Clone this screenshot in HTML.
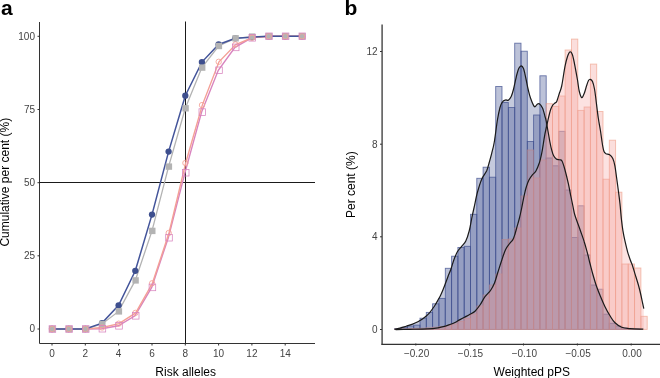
<!DOCTYPE html>
<html><head><meta charset="utf-8"><style>
html,body{margin:0;padding:0;background:#fff;width:660px;height:378px;overflow:hidden}
svg{display:block;will-change:transform}
text{font-family:"Liberation Sans",sans-serif}
.tk{font-size:10px;fill:#444}
.ti{font-size:12px;fill:#000}
.pl{font-size:21px;font-weight:bold;fill:#000}
</style></head><body>
<svg width="660" height="378" viewBox="0 0 660 378">
<rect width="660" height="378" fill="#fff"/>
<text x="1" y="14.6" class="pl">a</text>
<text x="344.5" y="14.6" class="pl">b</text>
<line x1="39.5" y1="22" x2="39.5" y2="343.5" stroke="#333" stroke-width="1"/>
<line x1="39.5" y1="343.5" x2="315" y2="343.5" stroke="#333" stroke-width="1"/>
<line x1="37.5" y1="329" x2="39.5" y2="329" stroke="#333" stroke-width="1"/>
<text x="35" y="332.4" class="tk" text-anchor="end">0</text>
<line x1="37.5" y1="255.8" x2="39.5" y2="255.8" stroke="#333" stroke-width="1"/>
<text x="35" y="259.2" class="tk" text-anchor="end">25</text>
<line x1="37.5" y1="182.7" x2="39.5" y2="182.7" stroke="#333" stroke-width="1"/>
<text x="35" y="186.1" class="tk" text-anchor="end">50</text>
<line x1="37.5" y1="109.5" x2="39.5" y2="109.5" stroke="#333" stroke-width="1"/>
<text x="35" y="112.9" class="tk" text-anchor="end">75</text>
<line x1="37.5" y1="36.3" x2="39.5" y2="36.3" stroke="#333" stroke-width="1"/>
<text x="35" y="39.7" class="tk" text-anchor="end">100</text>
<line x1="52" y1="343.5" x2="52" y2="345.5" stroke="#333" stroke-width="1"/>
<text x="52" y="356.9" class="tk" text-anchor="middle">0</text>
<line x1="85.3" y1="343.5" x2="85.3" y2="345.5" stroke="#333" stroke-width="1"/>
<text x="85.3" y="356.9" class="tk" text-anchor="middle">2</text>
<line x1="118.6" y1="343.5" x2="118.6" y2="345.5" stroke="#333" stroke-width="1"/>
<text x="118.6" y="356.9" class="tk" text-anchor="middle">4</text>
<line x1="152" y1="343.5" x2="152" y2="345.5" stroke="#333" stroke-width="1"/>
<text x="152" y="356.9" class="tk" text-anchor="middle">6</text>
<line x1="185.3" y1="343.5" x2="185.3" y2="345.5" stroke="#333" stroke-width="1"/>
<text x="185.3" y="356.9" class="tk" text-anchor="middle">8</text>
<line x1="218.6" y1="343.5" x2="218.6" y2="345.5" stroke="#333" stroke-width="1"/>
<text x="218.6" y="356.9" class="tk" text-anchor="middle">10</text>
<line x1="251.9" y1="343.5" x2="251.9" y2="345.5" stroke="#333" stroke-width="1"/>
<text x="251.9" y="356.9" class="tk" text-anchor="middle">12</text>
<line x1="285.2" y1="343.5" x2="285.2" y2="345.5" stroke="#333" stroke-width="1"/>
<text x="285.2" y="356.9" class="tk" text-anchor="middle">14</text>
<line x1="185.5" y1="21.5" x2="185.5" y2="343.5" stroke="#1a1a1a" stroke-width="1"/>
<line x1="39.5" y1="182.5" x2="315" y2="182.5" stroke="#1a1a1a" stroke-width="1"/>
<polyline points="51.7,329 68.4,329 85,329 101.7,328.7 118.3,325.8 135,315.8 151.7,287.4 168.3,237.7 185,172.7 201.6,112.1 218.3,70.3 235,47.4 251.6,37.8 268.3,36.3 284.9,36.3 301.6,36.3" fill="none" stroke="#d883be" stroke-width="1.4"/>
<polyline points="52.4,329 69.1,329 85.7,329 102.4,327.5 119,323.7 135.7,312.9 152.4,283.3 169,233 185.7,163 202.3,105.1 219,61.8 235.7,44.5 252.3,37.8 269,36.3 285.6,36.3 302.3,36.3" fill="none" stroke="#f4a096" stroke-width="1.4"/>
<polyline points="52,329 68.7,329 85.3,329 102,324 118.6,311.4 135.3,280.4 152,230.9 168.6,166.6 185.3,108.3 201.9,67.6 218.6,46 235.3,38.3 251.9,36.6 268.6,36.3 285.2,36.3 301.9,36.3" fill="none" stroke="#b3b3b3" stroke-width="1.3"/>
<polyline points="52,329 68.7,329 85.3,329 102,323.1 118.6,305.3 135.3,270.8 152,214.6 168.6,151.6 185.3,95.7 201.9,62.1 218.6,44.5 235.3,38.3 251.9,37.2 268.6,36.3 285.2,36.3 301.9,36.3" fill="none" stroke="#43549a" stroke-width="1.5"/>
<circle cx="52" cy="329" r="3.15" fill="#3e4f8e"/>
<circle cx="68.7" cy="329" r="3.15" fill="#3e4f8e"/>
<circle cx="85.3" cy="329" r="3.15" fill="#3e4f8e"/>
<circle cx="102" cy="323.1" r="3.15" fill="#3e4f8e"/>
<circle cx="118.6" cy="305.3" r="3.15" fill="#3e4f8e"/>
<circle cx="135.3" cy="270.8" r="3.15" fill="#3e4f8e"/>
<circle cx="152" cy="214.6" r="3.15" fill="#3e4f8e"/>
<circle cx="168.6" cy="151.6" r="3.15" fill="#3e4f8e"/>
<circle cx="185.3" cy="95.7" r="3.15" fill="#3e4f8e"/>
<circle cx="201.9" cy="62.1" r="3.15" fill="#3e4f8e"/>
<circle cx="218.6" cy="44.5" r="3.15" fill="#3e4f8e"/>
<circle cx="235.3" cy="38.3" r="3.15" fill="#3e4f8e"/>
<circle cx="251.9" cy="37.2" r="3.15" fill="#3e4f8e"/>
<circle cx="268.6" cy="36.3" r="3.15" fill="#3e4f8e"/>
<circle cx="285.2" cy="36.3" r="3.15" fill="#3e4f8e"/>
<circle cx="301.9" cy="36.3" r="3.15" fill="#3e4f8e"/>
<rect x="49.1" y="325.8" width="6.4" height="6.4" fill="#b3b3b3"/>
<rect x="65.8" y="325.8" width="6.4" height="6.4" fill="#b3b3b3"/>
<rect x="82.4" y="325.8" width="6.4" height="6.4" fill="#b3b3b3"/>
<rect x="99.1" y="320.8" width="6.4" height="6.4" fill="#b3b3b3"/>
<rect x="115.7" y="308.2" width="6.4" height="6.4" fill="#b3b3b3"/>
<rect x="132.4" y="277.2" width="6.4" height="6.4" fill="#b3b3b3"/>
<rect x="149.1" y="227.7" width="6.4" height="6.4" fill="#b3b3b3"/>
<rect x="165.7" y="163.4" width="6.4" height="6.4" fill="#b3b3b3"/>
<rect x="182.4" y="105.1" width="6.4" height="6.4" fill="#b3b3b3"/>
<rect x="199" y="64.4" width="6.4" height="6.4" fill="#b3b3b3"/>
<rect x="215.7" y="42.8" width="6.4" height="6.4" fill="#b3b3b3"/>
<rect x="232.4" y="35.1" width="6.4" height="6.4" fill="#b3b3b3"/>
<rect x="249" y="33.4" width="6.4" height="6.4" fill="#b3b3b3"/>
<rect x="265.7" y="33.1" width="6.4" height="6.4" fill="#b3b3b3"/>
<rect x="282.3" y="33.1" width="6.4" height="6.4" fill="#b3b3b3"/>
<rect x="299" y="33.1" width="6.4" height="6.4" fill="#b3b3b3"/>
<circle cx="52.1" cy="329" r="2.7" fill="none" stroke="#f4a096" stroke-width="0.85"/>
<circle cx="68.8" cy="329" r="2.7" fill="none" stroke="#f4a096" stroke-width="0.85"/>
<circle cx="85.4" cy="329" r="2.7" fill="none" stroke="#f4a096" stroke-width="0.85"/>
<circle cx="102.1" cy="327.5" r="2.7" fill="none" stroke="#f4a096" stroke-width="0.85"/>
<circle cx="118.7" cy="323.7" r="2.7" fill="none" stroke="#f4a096" stroke-width="0.85"/>
<circle cx="135.4" cy="312.9" r="2.7" fill="none" stroke="#f4a096" stroke-width="0.85"/>
<circle cx="152.1" cy="283.3" r="2.7" fill="none" stroke="#f4a096" stroke-width="0.85"/>
<circle cx="168.7" cy="233" r="2.7" fill="none" stroke="#f4a096" stroke-width="0.85"/>
<circle cx="185.4" cy="163" r="2.7" fill="none" stroke="#f4a096" stroke-width="0.85"/>
<circle cx="202" cy="105.1" r="2.7" fill="none" stroke="#f4a096" stroke-width="0.85"/>
<circle cx="218.7" cy="61.8" r="2.7" fill="none" stroke="#f4a096" stroke-width="0.85"/>
<circle cx="235.4" cy="44.5" r="2.7" fill="none" stroke="#f4a096" stroke-width="0.85"/>
<circle cx="252" cy="37.8" r="2.7" fill="none" stroke="#f4a096" stroke-width="0.85"/>
<circle cx="268.7" cy="36.3" r="2.7" fill="none" stroke="#f4a096" stroke-width="0.85"/>
<circle cx="285.3" cy="36.3" r="2.7" fill="none" stroke="#f4a096" stroke-width="0.85"/>
<circle cx="302" cy="36.3" r="2.7" fill="none" stroke="#f4a096" stroke-width="0.85"/>
<rect x="49.1" y="325.7" width="6.6" height="6.6" fill="none" stroke="#d883be" stroke-width="0.75"/>
<rect x="65.8" y="325.7" width="6.6" height="6.6" fill="none" stroke="#d883be" stroke-width="0.75"/>
<rect x="82.4" y="325.7" width="6.6" height="6.6" fill="none" stroke="#d883be" stroke-width="0.75"/>
<rect x="99.1" y="325.4" width="6.6" height="6.6" fill="none" stroke="#d883be" stroke-width="0.75"/>
<rect x="115.7" y="322.5" width="6.6" height="6.6" fill="none" stroke="#d883be" stroke-width="0.75"/>
<rect x="132.4" y="312.5" width="6.6" height="6.6" fill="none" stroke="#d883be" stroke-width="0.75"/>
<rect x="149.1" y="284.1" width="6.6" height="6.6" fill="none" stroke="#d883be" stroke-width="0.75"/>
<rect x="165.7" y="234.4" width="6.6" height="6.6" fill="none" stroke="#d883be" stroke-width="0.75"/>
<rect x="182.4" y="169.4" width="6.6" height="6.6" fill="none" stroke="#d883be" stroke-width="0.75"/>
<rect x="199" y="108.8" width="6.6" height="6.6" fill="none" stroke="#d883be" stroke-width="0.75"/>
<rect x="215.7" y="67" width="6.6" height="6.6" fill="none" stroke="#d883be" stroke-width="0.75"/>
<rect x="232.4" y="44.1" width="6.6" height="6.6" fill="none" stroke="#d883be" stroke-width="0.75"/>
<rect x="249" y="34.5" width="6.6" height="6.6" fill="none" stroke="#d883be" stroke-width="0.75"/>
<rect x="265.7" y="33" width="6.6" height="6.6" fill="none" stroke="#d883be" stroke-width="0.75"/>
<rect x="282.3" y="33" width="6.6" height="6.6" fill="none" stroke="#d883be" stroke-width="0.75"/>
<rect x="299" y="33" width="6.6" height="6.6" fill="none" stroke="#d883be" stroke-width="0.75"/>
<text x="185.7" y="376" class="ti" text-anchor="middle">Risk alleles</text>
<text transform="translate(8.8,182.2) rotate(-90)" class="ti" text-anchor="middle">Cumulative per cent (%)</text>
<g fill="#3f4f8f" fill-opacity="0.35" stroke="#3f4f8f" stroke-opacity="0.75" stroke-width="0.9">
<rect x="394.8" y="328.5" width="6.3" height="0.9"/>
<rect x="401.1" y="327.3" width="6.3" height="2.1"/>
<rect x="407.4" y="326" width="6.3" height="3.4"/>
<rect x="413.7" y="325.1" width="6.3" height="4.3"/>
<rect x="420" y="318.2" width="6.3" height="11.2"/>
<rect x="426.3" y="312.4" width="6.3" height="17"/>
<rect x="432.6" y="303.8" width="6.3" height="25.6"/>
<rect x="438.9" y="298.4" width="6.3" height="31"/>
<rect x="445.3" y="268.3" width="6.3" height="61.1"/>
<rect x="451.6" y="256.2" width="6.3" height="73.2"/>
<rect x="457.9" y="247.5" width="6.3" height="81.9"/>
<rect x="464.2" y="246.3" width="6.3" height="83.1"/>
<rect x="470.5" y="214.3" width="6.3" height="115.1"/>
<rect x="476.8" y="178.3" width="6.3" height="151.1"/>
<rect x="483.1" y="167.2" width="6.3" height="162.2"/>
<rect x="489.4" y="177.2" width="6.3" height="152.2"/>
<rect x="495.7" y="86.5" width="6.3" height="242.9"/>
<rect x="502" y="102.5" width="6.3" height="226.9"/>
<rect x="508.4" y="107.5" width="6.3" height="221.9"/>
<rect x="514.7" y="43.2" width="6.3" height="286.2"/>
<rect x="521" y="51.2" width="6.3" height="278.2"/>
<rect x="527.3" y="141.5" width="6.3" height="187.9"/>
<rect x="533.6" y="115" width="6.3" height="214.4"/>
<rect x="539.9" y="75.8" width="6.3" height="253.6"/>
<rect x="546.2" y="158" width="6.3" height="171.4"/>
<rect x="552.5" y="165.8" width="6.3" height="163.6"/>
<rect x="558.8" y="131.3" width="6.3" height="198.1"/>
<rect x="565.1" y="190" width="6.3" height="139.4"/>
<rect x="571.5" y="237.5" width="6.3" height="91.9"/>
<rect x="577.8" y="205.8" width="6.3" height="123.6"/>
<rect x="584.1" y="255" width="6.3" height="74.4"/>
<rect x="590.4" y="285" width="6.3" height="44.4"/>
<rect x="596.7" y="289.2" width="6.3" height="40.2"/>
<rect x="603" y="314.2" width="6.3" height="15.2"/>
<rect x="609.3" y="323.3" width="6.3" height="6.1"/>
<rect x="615.6" y="326" width="6.3" height="3.4"/>
<rect x="621.9" y="327.8" width="6.3" height="1.6"/>
<rect x="628.2" y="328.4" width="6.3" height="1"/>
<rect x="634.6" y="328.8" width="6.3" height="0.6"/>
</g>
<g fill="#f4a09a" fill-opacity="0.35" stroke="#ee9c86" stroke-opacity="0.65" stroke-width="0.9">
<rect x="394.8" y="329" width="6.3" height="0.4"/>
<rect x="401.1" y="328.9" width="6.3" height="0.5"/>
<rect x="407.4" y="328.6" width="6.3" height="0.8"/>
<rect x="413.7" y="328.4" width="6.3" height="1"/>
<rect x="420" y="328.2" width="6.3" height="1.2"/>
<rect x="426.3" y="327.8" width="6.3" height="1.6"/>
<rect x="432.6" y="327.2" width="6.3" height="2.2"/>
<rect x="438.9" y="326.5" width="6.3" height="2.9"/>
<rect x="445.3" y="325.5" width="6.3" height="3.9"/>
<rect x="451.6" y="324" width="6.3" height="5.4"/>
<rect x="457.9" y="321.5" width="6.3" height="7.9"/>
<rect x="464.2" y="318.5" width="6.3" height="10.9"/>
<rect x="470.5" y="314" width="6.3" height="15.4"/>
<rect x="476.8" y="306" width="6.3" height="23.4"/>
<rect x="483.1" y="295" width="6.3" height="34.4"/>
<rect x="489.4" y="285" width="6.3" height="44.4"/>
<rect x="495.7" y="274" width="6.3" height="55.4"/>
<rect x="502" y="239.6" width="6.3" height="89.8"/>
<rect x="508.4" y="239" width="6.3" height="90.4"/>
<rect x="514.7" y="228" width="6.3" height="101.4"/>
<rect x="521" y="196" width="6.3" height="133.4"/>
<rect x="527.3" y="150" width="6.3" height="179.4"/>
<rect x="533.6" y="178" width="6.3" height="151.4"/>
<rect x="539.9" y="160" width="6.3" height="169.4"/>
<rect x="546.2" y="103.7" width="6.3" height="225.7"/>
<rect x="552.5" y="106.3" width="6.3" height="223.1"/>
<rect x="558.8" y="96" width="6.3" height="233.4"/>
<rect x="565.1" y="50" width="6.3" height="279.4"/>
<rect x="571.5" y="39.1" width="6.3" height="290.3"/>
<rect x="577.8" y="110.4" width="6.3" height="219"/>
<rect x="584.1" y="107" width="6.3" height="222.4"/>
<rect x="590.4" y="64.1" width="6.3" height="265.3"/>
<rect x="596.7" y="111.5" width="6.3" height="217.9"/>
<rect x="603" y="179.2" width="6.3" height="150.2"/>
<rect x="609.3" y="140.2" width="6.3" height="189.2"/>
<rect x="615.6" y="192.2" width="6.3" height="137.2"/>
<rect x="621.9" y="264" width="6.3" height="65.4"/>
<rect x="628.2" y="264" width="6.3" height="65.4"/>
<rect x="634.6" y="268" width="6.3" height="61.4"/>
<rect x="640.9" y="316.3" width="6.3" height="13.1"/>
</g>
<path d="M394.5,329.4 C395.6,329.1 398.9,328.3 400.9,327.8 C402.8,327.3 404.2,326.8 406.2,326.2 C408.1,325.6 410.7,324.8 412.6,324.1 C414.6,323.4 416.3,322.6 417.9,321.8 C419.5,321 420.8,320.2 422.1,319.3 C423.5,318.4 424.8,317.4 426,316.3 C427.2,315.2 428.4,314 429.5,312.8 C430.6,311.6 431.5,310.3 432.4,309 C433.3,307.7 434.1,306.6 435,305.2 C435.9,303.8 436.8,302.2 437.7,300.6 C438.6,299 439.6,297.3 440.5,295.5 C441.4,293.7 442.2,291.8 443,289.8 C443.8,287.8 444.7,285.5 445.5,283.3 C446.3,281.1 447.1,278.9 448,276.5 C448.9,274.1 450,271.8 451,269 C452,266.2 452.9,262.4 454,259.5 C455.1,256.6 456.2,253.7 457.5,251.5 C458.8,249.3 460.3,248.1 461.7,246.3 C463.1,244.6 464.6,243.6 465.8,241 C467.1,238.4 468.2,234.8 469.2,231 C470.2,227.2 470.9,222.5 471.7,218.5 C472.5,214.5 473.2,211.4 474.2,207 C475.2,202.6 476.2,196.6 477.5,192 C478.8,187.4 480.2,182.7 481.7,179.2 C483.2,175.7 485.4,173.6 486.7,170.8 C487.9,168 488.4,165.4 489.2,162.5 C490,159.6 490.9,156.6 491.7,153.3 C492.5,150 493.2,148.1 494.2,142.5 C495.2,136.9 496.5,125.3 497.5,119.5 C498.5,113.7 499.2,110.5 500,107.5 C500.8,104.5 501.6,103 502.5,101.8 C503.4,100.5 504.5,100.3 505.5,100 C506.5,99.7 507.4,100.8 508.3,100.2 C509.2,99.6 510.4,98.2 511.2,96.5 C512,94.8 512.4,93.6 513.3,90 C514.2,86.4 515.8,78.7 516.7,75 C517.7,71.3 518.2,69.5 519,68 C519.8,66.5 520.5,65.7 521.2,65.8 C522,65.9 522.7,66.5 523.5,68.5 C524.3,70.5 525,74.4 525.8,78 C526.6,81.6 527.5,86.7 528.3,90 C529.1,93.3 529.5,95.2 530.5,98 C531.5,100.8 533.2,105.4 534.3,106.5 C535.4,107.6 536.2,105 537,104.5 C537.8,104 538.4,103.1 539.3,103.7 C540.2,104.3 541.5,105.9 542.5,108 C543.5,110.1 544.4,114.2 545,116.5 C545.6,118.8 545.5,117.2 546.3,121.5 C547.1,125.8 549,137.2 549.9,142 C550.8,146.8 551.1,148 551.8,150.3 C552.4,152.6 553,154.6 553.8,156 C554.5,157.4 555.3,158.3 556.3,158.9 C557.2,159.5 558.5,159.5 559.5,159.8 C560.5,160.2 561.1,159.3 562,161 C562.9,162.7 564,166.3 565,170 C566,173.7 567.3,179 568.3,183.3 C569.3,187.6 570,192.1 570.8,196 C571.6,199.9 572.3,203.2 573,206.5 C573.7,209.8 573.8,211.7 575,215.5 C576.2,219.3 578.5,225.1 580,229.5 C581.5,233.9 583,237.7 584.2,241.7 C585.5,245.7 586.5,249.7 587.5,253.3 C588.5,256.9 589,259.8 590,263.5 C591,267.2 592.1,271.8 593.2,275.5 C594.3,279.2 595.2,282.6 596.4,286 C597.6,289.4 598.9,292.6 600.3,296 C601.7,299.4 603.4,303.4 605,306.7 C606.6,310 608.3,313.1 610,315.8 C611.7,318.5 613,320.9 615,322.8 C617,324.7 619.2,326.3 621.7,327.3 C624.2,328.3 626.4,328.4 630,328.7 C633.6,329 641.1,329.1 643.3,329.2 L643.3,329.4 Z" fill="#3f4f8f" fill-opacity="0.3" stroke="none"/>
<path d="M395.6,329.6 C398,329.6 404.7,329.4 410,329.3 C415.3,329.2 422.7,329.1 427.4,328.9 C432.1,328.6 435.2,328.2 438,327.8 C440.8,327.4 442.3,327 444.4,326.4 C446.5,325.8 448.9,324.9 450.7,324.3 C452.5,323.7 453.4,323.3 455,322.5 C456.6,321.7 458.3,320.5 460,319.6 C461.7,318.7 463.3,317.9 465,317 C466.7,316.1 468.3,315.3 470,314.3 C471.7,313.3 473.3,312.8 475,311.2 C476.7,309.6 478.3,307.4 480,305 C481.7,302.6 483.2,299.1 485,296.7 C486.8,294.3 488.9,292.8 490.5,290.5 C492.1,288.2 493.3,286 494.5,283 C495.7,280 496.6,276.2 497.8,272.5 C499,268.8 500.2,264.8 501.5,261 C502.8,257.2 504.1,252.6 505.5,249.7 C506.9,246.8 508.5,245.2 509.7,243.5 C510.9,241.8 512,241.2 512.9,239.6 C513.8,238 514.3,236.2 515,234 C515.7,231.8 516.4,228.9 517.1,226.4 C517.8,223.9 518.4,222.1 519.2,219 C520,215.9 520.9,211.9 521.7,208 C522.5,204.1 523.4,198.9 524.2,195.4 C525,191.9 525.5,189.5 526.3,187 C527.1,184.5 527.8,182.2 528.8,180.2 C529.8,178.2 531,176.6 532.2,175.1 C533.4,173.6 534.6,173.2 535.8,171.2 C537,169.2 538.2,166.3 539.2,163.3 C540.2,160.3 541,156.5 541.7,153.3 C542.4,150.1 542.8,147.3 543.3,144 C543.8,140.7 544.2,137.9 545,133.7 C545.8,129.5 547.4,122.7 548.3,118.7 C549.2,114.8 549.8,112.2 550.5,110 C551.2,107.8 551.8,106.7 552.5,105.5 C553.2,104.3 554.3,103.7 555,103 C555.7,102.3 556,103 556.7,101.5 C557.4,100 558.4,96.3 559.2,93.7 C560,91.1 560.7,90.6 561.7,86 C562.7,81.4 564,71.2 565,66.3 C566,61.4 566.7,58.9 567.5,56.5 C568.3,54.1 569.2,52 570,51.8 C570.8,51.5 571.7,52.6 572.5,55 C573.3,57.4 574.2,62.1 575,66.3 C575.8,70.5 576.8,75.9 577.5,80 C578.2,84.1 578.5,88.1 579.2,91 C579.9,93.9 580.9,97.2 581.7,97.6 C582.5,98 583.4,95.4 584.2,93.5 C585,91.6 585.8,88.2 586.5,86 C587.2,83.8 587.9,81.6 588.5,80.5 C589.1,79.4 589.6,79.1 590.3,79.3 C591,79.5 591.8,79.9 592.5,81.5 C593.2,83.1 593.9,85.9 594.5,89 C595.1,92.1 595.4,95.2 596,100 C596.6,104.8 597.5,112.8 598.3,118 C599,123.2 599.8,126.3 600.5,131 C601.2,135.7 602.1,142.6 602.7,146 C603.3,149.4 603.5,150.2 604,151.5 C604.5,152.8 605.1,153.1 606,153.7 C606.9,154.2 608.5,154 609.6,154.8 C610.7,155.6 611.9,156.7 612.8,158.5 C613.7,160.3 614.3,162.8 614.9,165.9 C615.5,169 615.9,172.8 616.5,177 C617.1,181.2 617.8,186.5 618.4,191 C619,195.5 619.5,199.2 620,204 C620.5,208.8 621,215.6 621.5,220 C622,224.4 622.3,227.1 622.9,230.6 C623.5,234.1 624.2,237.7 625,241.2 C625.8,244.7 626.7,248.6 627.6,251.8 C628.5,255 629.7,258.2 630.5,260.5 C631.3,262.8 631.5,262.7 632.4,265.3 C633.2,267.9 634.5,272.4 635.6,275.9 C636.7,279.4 637.9,283.2 638.8,286.5 C639.7,289.8 640.2,291.8 641,295.5 C641.8,299.2 643.3,306.5 643.8,308.7 L643.8,329.4 L395.6,329.4 Z" fill="#f4a09a" fill-opacity="0.3" stroke="none"/>
<path d="M394.5,329.4 C395.6,329.1 398.9,328.3 400.9,327.8 C402.8,327.3 404.2,326.8 406.2,326.2 C408.1,325.6 410.7,324.8 412.6,324.1 C414.6,323.4 416.3,322.6 417.9,321.8 C419.5,321 420.8,320.2 422.1,319.3 C423.5,318.4 424.8,317.4 426,316.3 C427.2,315.2 428.4,314 429.5,312.8 C430.6,311.6 431.5,310.3 432.4,309 C433.3,307.7 434.1,306.6 435,305.2 C435.9,303.8 436.8,302.2 437.7,300.6 C438.6,299 439.6,297.3 440.5,295.5 C441.4,293.7 442.2,291.8 443,289.8 C443.8,287.8 444.7,285.5 445.5,283.3 C446.3,281.1 447.1,278.9 448,276.5 C448.9,274.1 450,271.8 451,269 C452,266.2 452.9,262.4 454,259.5 C455.1,256.6 456.2,253.7 457.5,251.5 C458.8,249.3 460.3,248.1 461.7,246.3 C463.1,244.6 464.6,243.6 465.8,241 C467.1,238.4 468.2,234.8 469.2,231 C470.2,227.2 470.9,222.5 471.7,218.5 C472.5,214.5 473.2,211.4 474.2,207 C475.2,202.6 476.2,196.6 477.5,192 C478.8,187.4 480.2,182.7 481.7,179.2 C483.2,175.7 485.4,173.6 486.7,170.8 C487.9,168 488.4,165.4 489.2,162.5 C490,159.6 490.9,156.6 491.7,153.3 C492.5,150 493.2,148.1 494.2,142.5 C495.2,136.9 496.5,125.3 497.5,119.5 C498.5,113.7 499.2,110.5 500,107.5 C500.8,104.5 501.6,103 502.5,101.8 C503.4,100.5 504.5,100.3 505.5,100 C506.5,99.7 507.4,100.8 508.3,100.2 C509.2,99.6 510.4,98.2 511.2,96.5 C512,94.8 512.4,93.6 513.3,90 C514.2,86.4 515.8,78.7 516.7,75 C517.7,71.3 518.2,69.5 519,68 C519.8,66.5 520.5,65.7 521.2,65.8 C522,65.9 522.7,66.5 523.5,68.5 C524.3,70.5 525,74.4 525.8,78 C526.6,81.6 527.5,86.7 528.3,90 C529.1,93.3 529.5,95.2 530.5,98 C531.5,100.8 533.2,105.4 534.3,106.5 C535.4,107.6 536.2,105 537,104.5 C537.8,104 538.4,103.1 539.3,103.7 C540.2,104.3 541.5,105.9 542.5,108 C543.5,110.1 544.4,114.2 545,116.5 C545.6,118.8 545.5,117.2 546.3,121.5 C547.1,125.8 549,137.2 549.9,142 C550.8,146.8 551.1,148 551.8,150.3 C552.4,152.6 553,154.6 553.8,156 C554.5,157.4 555.3,158.3 556.3,158.9 C557.2,159.5 558.5,159.5 559.5,159.8 C560.5,160.2 561.1,159.3 562,161 C562.9,162.7 564,166.3 565,170 C566,173.7 567.3,179 568.3,183.3 C569.3,187.6 570,192.1 570.8,196 C571.6,199.9 572.3,203.2 573,206.5 C573.7,209.8 573.8,211.7 575,215.5 C576.2,219.3 578.5,225.1 580,229.5 C581.5,233.9 583,237.7 584.2,241.7 C585.5,245.7 586.5,249.7 587.5,253.3 C588.5,256.9 589,259.8 590,263.5 C591,267.2 592.1,271.8 593.2,275.5 C594.3,279.2 595.2,282.6 596.4,286 C597.6,289.4 598.9,292.6 600.3,296 C601.7,299.4 603.4,303.4 605,306.7 C606.6,310 608.3,313.1 610,315.8 C611.7,318.5 613,320.9 615,322.8 C617,324.7 619.2,326.3 621.7,327.3 C624.2,328.3 626.4,328.4 630,328.7 C633.6,329 641.1,329.1 643.3,329.2" fill="none" stroke="#1a1a1a" stroke-width="1.2"/>
<path d="M395.6,329.6 C398,329.6 404.7,329.4 410,329.3 C415.3,329.2 422.7,329.1 427.4,328.9 C432.1,328.6 435.2,328.2 438,327.8 C440.8,327.4 442.3,327 444.4,326.4 C446.5,325.8 448.9,324.9 450.7,324.3 C452.5,323.7 453.4,323.3 455,322.5 C456.6,321.7 458.3,320.5 460,319.6 C461.7,318.7 463.3,317.9 465,317 C466.7,316.1 468.3,315.3 470,314.3 C471.7,313.3 473.3,312.8 475,311.2 C476.7,309.6 478.3,307.4 480,305 C481.7,302.6 483.2,299.1 485,296.7 C486.8,294.3 488.9,292.8 490.5,290.5 C492.1,288.2 493.3,286 494.5,283 C495.7,280 496.6,276.2 497.8,272.5 C499,268.8 500.2,264.8 501.5,261 C502.8,257.2 504.1,252.6 505.5,249.7 C506.9,246.8 508.5,245.2 509.7,243.5 C510.9,241.8 512,241.2 512.9,239.6 C513.8,238 514.3,236.2 515,234 C515.7,231.8 516.4,228.9 517.1,226.4 C517.8,223.9 518.4,222.1 519.2,219 C520,215.9 520.9,211.9 521.7,208 C522.5,204.1 523.4,198.9 524.2,195.4 C525,191.9 525.5,189.5 526.3,187 C527.1,184.5 527.8,182.2 528.8,180.2 C529.8,178.2 531,176.6 532.2,175.1 C533.4,173.6 534.6,173.2 535.8,171.2 C537,169.2 538.2,166.3 539.2,163.3 C540.2,160.3 541,156.5 541.7,153.3 C542.4,150.1 542.8,147.3 543.3,144 C543.8,140.7 544.2,137.9 545,133.7 C545.8,129.5 547.4,122.7 548.3,118.7 C549.2,114.8 549.8,112.2 550.5,110 C551.2,107.8 551.8,106.7 552.5,105.5 C553.2,104.3 554.3,103.7 555,103 C555.7,102.3 556,103 556.7,101.5 C557.4,100 558.4,96.3 559.2,93.7 C560,91.1 560.7,90.6 561.7,86 C562.7,81.4 564,71.2 565,66.3 C566,61.4 566.7,58.9 567.5,56.5 C568.3,54.1 569.2,52 570,51.8 C570.8,51.5 571.7,52.6 572.5,55 C573.3,57.4 574.2,62.1 575,66.3 C575.8,70.5 576.8,75.9 577.5,80 C578.2,84.1 578.5,88.1 579.2,91 C579.9,93.9 580.9,97.2 581.7,97.6 C582.5,98 583.4,95.4 584.2,93.5 C585,91.6 585.8,88.2 586.5,86 C587.2,83.8 587.9,81.6 588.5,80.5 C589.1,79.4 589.6,79.1 590.3,79.3 C591,79.5 591.8,79.9 592.5,81.5 C593.2,83.1 593.9,85.9 594.5,89 C595.1,92.1 595.4,95.2 596,100 C596.6,104.8 597.5,112.8 598.3,118 C599,123.2 599.8,126.3 600.5,131 C601.2,135.7 602.1,142.6 602.7,146 C603.3,149.4 603.5,150.2 604,151.5 C604.5,152.8 605.1,153.1 606,153.7 C606.9,154.2 608.5,154 609.6,154.8 C610.7,155.6 611.9,156.7 612.8,158.5 C613.7,160.3 614.3,162.8 614.9,165.9 C615.5,169 615.9,172.8 616.5,177 C617.1,181.2 617.8,186.5 618.4,191 C619,195.5 619.5,199.2 620,204 C620.5,208.8 621,215.6 621.5,220 C622,224.4 622.3,227.1 622.9,230.6 C623.5,234.1 624.2,237.7 625,241.2 C625.8,244.7 626.7,248.6 627.6,251.8 C628.5,255 629.7,258.2 630.5,260.5 C631.3,262.8 631.5,262.7 632.4,265.3 C633.2,267.9 634.5,272.4 635.6,275.9 C636.7,279.4 637.9,283.2 638.8,286.5 C639.7,289.8 640.2,291.8 641,295.5 C641.8,299.2 643.3,306.5 643.8,308.7" fill="none" stroke="#1a1a1a" stroke-width="1.2"/>
<line x1="382.1" y1="24.5" x2="382.1" y2="344.8" stroke="#444" stroke-width="1.4"/>
<line x1="381.4" y1="344.3" x2="660" y2="344.3" stroke="#333" stroke-width="1.2"/>
<line x1="380" y1="329.5" x2="382" y2="329.5" stroke="#333" stroke-width="1"/>
<text x="377.5" y="332.9" class="tk" text-anchor="end">0</text>
<line x1="380" y1="236.8" x2="382" y2="236.8" stroke="#333" stroke-width="1"/>
<text x="377.5" y="240.2" class="tk" text-anchor="end">4</text>
<line x1="380" y1="144.2" x2="382" y2="144.2" stroke="#333" stroke-width="1"/>
<text x="377.5" y="147.6" class="tk" text-anchor="end">8</text>
<line x1="380" y1="51.5" x2="382" y2="51.5" stroke="#333" stroke-width="1"/>
<text x="377.5" y="54.9" class="tk" text-anchor="end">12</text>
<line x1="415.8" y1="343.5" x2="415.8" y2="345.5" stroke="#333" stroke-width="1"/>
<text x="416.6" y="356.9" class="tk" text-anchor="middle">−0.20</text>
<line x1="469.7" y1="343.5" x2="469.7" y2="345.5" stroke="#333" stroke-width="1"/>
<text x="470.5" y="356.9" class="tk" text-anchor="middle">−0.15</text>
<line x1="523.5" y1="343.5" x2="523.5" y2="345.5" stroke="#333" stroke-width="1"/>
<text x="524.3" y="356.9" class="tk" text-anchor="middle">−0.10</text>
<line x1="577.4" y1="343.5" x2="577.4" y2="345.5" stroke="#333" stroke-width="1"/>
<text x="578.1" y="356.9" class="tk" text-anchor="middle">−0.05</text>
<line x1="631.2" y1="343.5" x2="631.2" y2="345.5" stroke="#333" stroke-width="1"/>
<text x="632" y="356.9" class="tk" text-anchor="middle">0.00</text>
<text x="531.8" y="376" class="ti" text-anchor="middle">Weighted pPS</text>
<text transform="translate(354.6,184.7) rotate(-90)" class="ti" text-anchor="middle">Per cent (%)</text>
</svg>
</body></html>
